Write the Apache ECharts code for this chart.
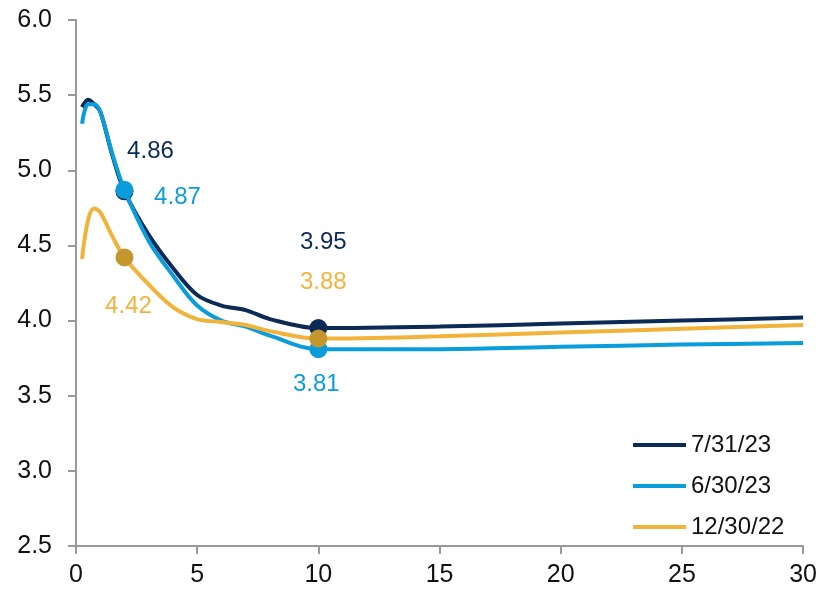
<!DOCTYPE html>
<html>
<head>
<meta charset="utf-8">
<script src="https://cdn.jsdelivr.net/npm/echarts@6/dist/echarts.min.js"></script>
<style>
  html, body { margin: 0; padding: 0; background: #fff; }
  #chart { width: 820px; height: 591px; }
</style>
</head>
<body>
<div id="chart"></div>
<script>
// Treasury yield curves: maturity in years vs yield (%)
const tenors = [0.25, 0.5, 0.75, 1, 1.5, 2, 3, 4, 5, 6, 7, 8, 10, 15, 20, 25, 30];
const seriesNames = ['7/31/23', '6/30/23', '12/30/22'];
const yieldsJul23 = [5.42, 5.47, 5.44, 5.39, 5.10, 4.86, 4.57, 4.35, 4.17, 4.10, 4.07, 4.01, 3.95, 3.96, 3.98, 4.00, 4.02];
const yieldsJun23 = [5.31, 5.44, 5.44, 5.39, 5.11, 4.87, 4.53, 4.30, 4.10, 4.00, 3.96, 3.90, 3.81, 3.81, 3.825, 3.84, 3.85];
const yieldsDec22 = [4.41, 4.67, 4.745, 4.72, 4.56, 4.42, 4.24, 4.09, 4.01, 3.99, 3.97, 3.93, 3.88, 3.895, 3.92, 3.945, 3.97];
const highlightTenors = [2, 10];
const xTicks = [0, 5, 10, 15, 20, 25, 30];
const yTicks = [2.5, 3.0, 3.5, 4.0, 4.5, 5.0, 5.5, 6.0];

const FONT = '"Liberation Sans", Arial, sans-serif';
const styles = [
  { line: '#0B2A55', marker: '#0B2A55', label: '#0B2A55',
    offsets: { 2: [26, -40], 10: [5, -86] } },
  { line: '#0A9CDB', marker: '#0A9CDB', label: '#0A9CDB',
    offsets: { 2: [53, 8], 10: [-2, 35] } },
  { line: '#F2B33A', marker: '#C4962E', label: '#F2B33A',
    offsets: { 2: [4, 49], 10: [5, -56] } }
];
const allYields = [yieldsJul23, yieldsJun23, yieldsDec22];

function buildData(values, st) {
  return tenors.map((t, i) => {
    const pt = { value: [t, values[i]] };
    if (highlightTenors.includes(t)) {
      pt.symbol = 'circle';
      pt.symbolSize = 18;
      pt.itemStyle = { color: st.marker };
      pt.label = {
        show: true,
        position: 'inside',
        offset: st.offsets[t],
        formatter: p => p.value[1].toFixed(2),
        color: st.label,
        fontFamily: FONT,
        fontSize: 24
      };
    }
    return pt;
  });
}

const series = seriesNames.map((name, k) => ({
  name,
  type: 'line',
  smooth: 0.35,
  symbol: 'none',
  showSymbol: true,
  showAllSymbol: true,
  lineStyle: { color: styles[k].line, width: 4 },
  itemStyle: { color: styles[k].line },
  emphasis: { disabled: true },
  z: 2 + k,
  data: buildData(allYields[k], styles[k])
}));

const chart = echarts.init(document.getElementById('chart'));
chart.setOption({
  animation: false,
  backgroundColor: '#fff',
  grid: { left: 76, right: 13, top: 20, bottom: 45, containLabel: false },
  xAxis: {
    type: 'value',
    min: xTicks[0],
    max: xTicks[xTicks.length - 1],
    interval: xTicks[1] - xTicks[0],
    axisLine: { show: true, onZero: false, lineStyle: { color: '#999', width: 2 } },
    axisTick: { show: true, length: 8, lineStyle: { color: '#999', width: 2 } },
    splitLine: { show: false },
    axisLabel: { color: '#111', fontFamily: FONT, fontSize: 25, margin: 17 }
  },
  yAxis: {
    type: 'value',
    min: yTicks[0],
    max: yTicks[yTicks.length - 1],
    interval: yTicks[1] - yTicks[0],
    axisLine: { show: true, onZero: false, lineStyle: { color: '#999', width: 2 } },
    axisTick: { show: true, length: 8, lineStyle: { color: '#999', width: 2 } },
    splitLine: { show: false },
    axisLabel: { color: '#111', fontFamily: FONT, fontSize: 25, margin: 24,
      formatter: v => v.toFixed(1) }
  },
  legend: {
    data: seriesNames,
    orient: 'vertical',
    left: 633,
    top: 433,
    padding: 0,
    icon: 'rect',
    itemWidth: 53,
    itemHeight: 4,
    itemGap: 17,
    textStyle: { color: '#111', fontFamily: FONT, fontSize: 24 }
  },
  series
});
</script>
</body>
</html>
